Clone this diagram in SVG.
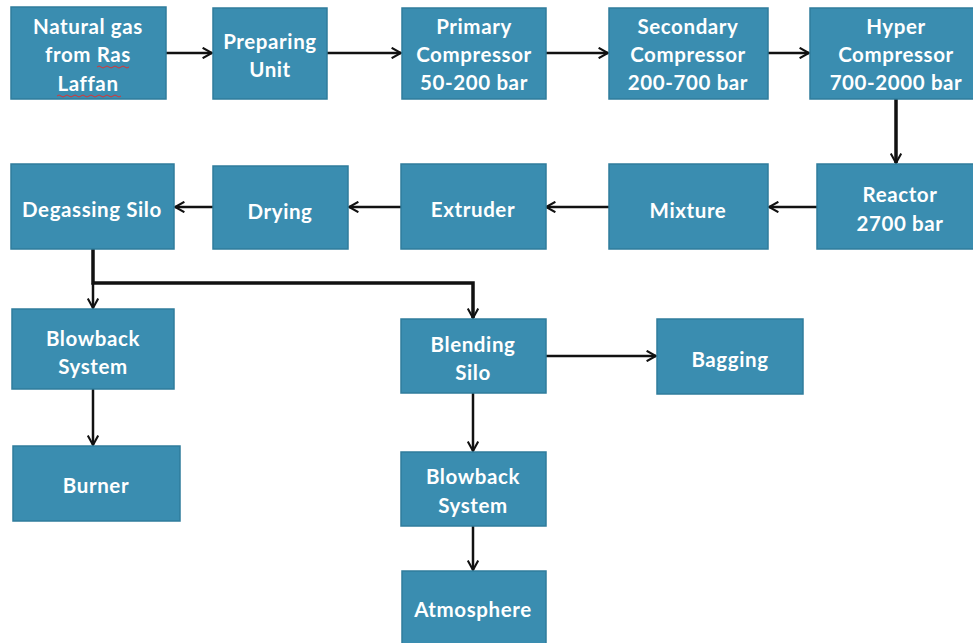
<svg xmlns="http://www.w3.org/2000/svg" width="973" height="643" viewBox="0 0 973 643">
<style>
.box{fill:#3A8DB0;stroke:#2F7C9C;stroke-width:1.5}
.t{font-family:Lato,"Open Sans","Liberation Sans",sans-serif;font-weight:bold;font-size:20.5px;letter-spacing:0.6px;fill:#fff;text-anchor:middle}
.c{fill:none;stroke:#111;stroke-width:2.5}
.thick{stroke-width:3.5}
.sq{fill:none;stroke:#d33;stroke-width:1}
</style>
<defs>
<marker id="ah" viewBox="0 0 12 12" refX="10" refY="6" markerWidth="5" markerHeight="5" orient="auto" markerUnits="strokeWidth">
<path d="M1,1 L10,6 L1,11" fill="none" stroke="#111" stroke-width="2"/>
</marker>
<marker id="ah2" viewBox="0 0 12 12" refX="10" refY="6" markerWidth="3.6" markerHeight="3.6" orient="auto" markerUnits="strokeWidth">
<path d="M1,1 L10,6 L1,11" fill="none" stroke="#111" stroke-width="2"/>
</marker>
</defs>
<rect width="973" height="643" fill="#fff"/>
<g id="connectors">
<path class="c" d="M166,53 H212" marker-end="url(#ah)"/>
<path class="c" d="M327,53 H401" marker-end="url(#ah)"/>
<path class="c" d="M546,53 H608" marker-end="url(#ah)"/>
<path class="c" d="M768,53 H809" marker-end="url(#ah)"/>
<path class="c thick" d="M896,99 V163" marker-end="url(#ah2)"/>
<path class="c" d="M817,207 H769" marker-end="url(#ah)"/>
<path class="c" d="M609,207 H546" marker-end="url(#ah)"/>
<path class="c" d="M401,207 H349" marker-end="url(#ah)"/>
<path class="c" d="M213,207 H175" marker-end="url(#ah)"/>
<path class="c thick" d="M93,249 V283 H473 V318" marker-end="url(#ah2)"/>
<path class="c" d="M93,283 V308" marker-end="url(#ah)"/>
<path class="c" d="M93,389 V445" marker-end="url(#ah)"/>
<path class="c" d="M546,356 H656" marker-end="url(#ah)"/>
<path class="c" d="M473,393 V451" marker-end="url(#ah)"/>
<path class="c" d="M473,526 V570" marker-end="url(#ah)"/>
</g>
<g id="natural-gas">
<rect class="box" x="11" y="7" width="155" height="92"/>
<text class="t" x="88" y="34">Natural gas</text>
<text class="t" x="88" y="62">from Ras</text>
<text class="t" x="88" y="91">Laffan</text>
<path class="sq" d="M97,67 q2,-2 4,0 t4,0 t4,0 t4,0 t4,0 t4,0 t4,0 t4,0"/>
<path class="sq" d="M57,96 q2,-2 4,0 t4,0 t4,0 t4,0 t4,0 t4,0 t4,0 t4,0 t4,0 t4,0 t4,0 t4,0 t4,0 t4,0 t4,0 t4,0"/>
</g>
<g id="preparing-unit">
<rect class="box" x="213" y="8" width="114" height="91"/>
<text class="t" x="270" y="49">Preparing</text>
<text class="t" x="270" y="77">Unit</text>
</g>
<g id="primary-compressor">
<rect class="box" x="402" y="8" width="144" height="91"/>
<text class="t" x="474" y="34">Primary</text>
<text class="t" x="474" y="62">Compressor</text>
<text class="t" x="474" y="90">50-200 bar</text>
</g>
<g id="secondary-compressor">
<rect class="box" x="609" y="8" width="159" height="91"/>
<text class="t" x="688" y="34">Secondary</text>
<text class="t" x="688" y="62">Compressor</text>
<text class="t" x="688" y="90">200-700 bar</text>
</g>
<g id="hyper-compressor">
<rect class="box" x="810" y="8" width="170" height="91"/>
<text class="t" x="896" y="34">Hyper</text>
<text class="t" x="896" y="62">Compressor</text>
<text class="t" x="896" y="90">700-2000 bar</text>
</g>
<g id="reactor">
<rect class="box" x="817" y="164" width="163" height="85"/>
<text class="t" x="900" y="202">Reactor</text>
<text class="t" x="900" y="231">2700 bar</text>
</g>
<g id="mixture">
<rect class="box" x="609" y="164" width="159" height="85"/>
<text class="t" x="688" y="218">Mixture</text>
</g>
<g id="extruder">
<rect class="box" x="401" y="164" width="145" height="85"/>
<text class="t" x="473" y="217">Extruder</text>
</g>
<g id="drying">
<rect class="box" x="213" y="166" width="135" height="83"/>
<text class="t" x="280" y="219">Drying</text>
</g>
<g id="degassing-silo">
<rect class="box" x="11" y="164" width="163" height="85"/>
<text class="t" x="92" y="217">Degassing Silo</text>
</g>
<g id="blowback-system-1">
<rect class="box" x="12" y="309" width="162" height="80"/>
<text class="t" x="93" y="346">Blowback</text>
<text class="t" x="93" y="374">System</text>
</g>
<g id="burner">
<rect class="box" x="13" y="446" width="167" height="75"/>
<text class="t" x="96" y="493">Burner</text>
</g>
<g id="blending-silo">
<rect class="box" x="401" y="319" width="145" height="74"/>
<text class="t" x="473" y="352">Blending</text>
<text class="t" x="473" y="380">Silo</text>
</g>
<g id="bagging">
<rect class="box" x="657" y="319" width="146" height="75"/>
<text class="t" x="730" y="367">Bagging</text>
</g>
<g id="blowback-system-2">
<rect class="box" x="401" y="452" width="145" height="74"/>
<text class="t" x="473" y="484">Blowback</text>
<text class="t" x="473" y="513">System</text>
</g>
<g id="atmosphere">
<rect class="box" x="402" y="571" width="144" height="80"/>
<text class="t" x="473" y="617">Atmosphere</text>
</g>
</svg>
